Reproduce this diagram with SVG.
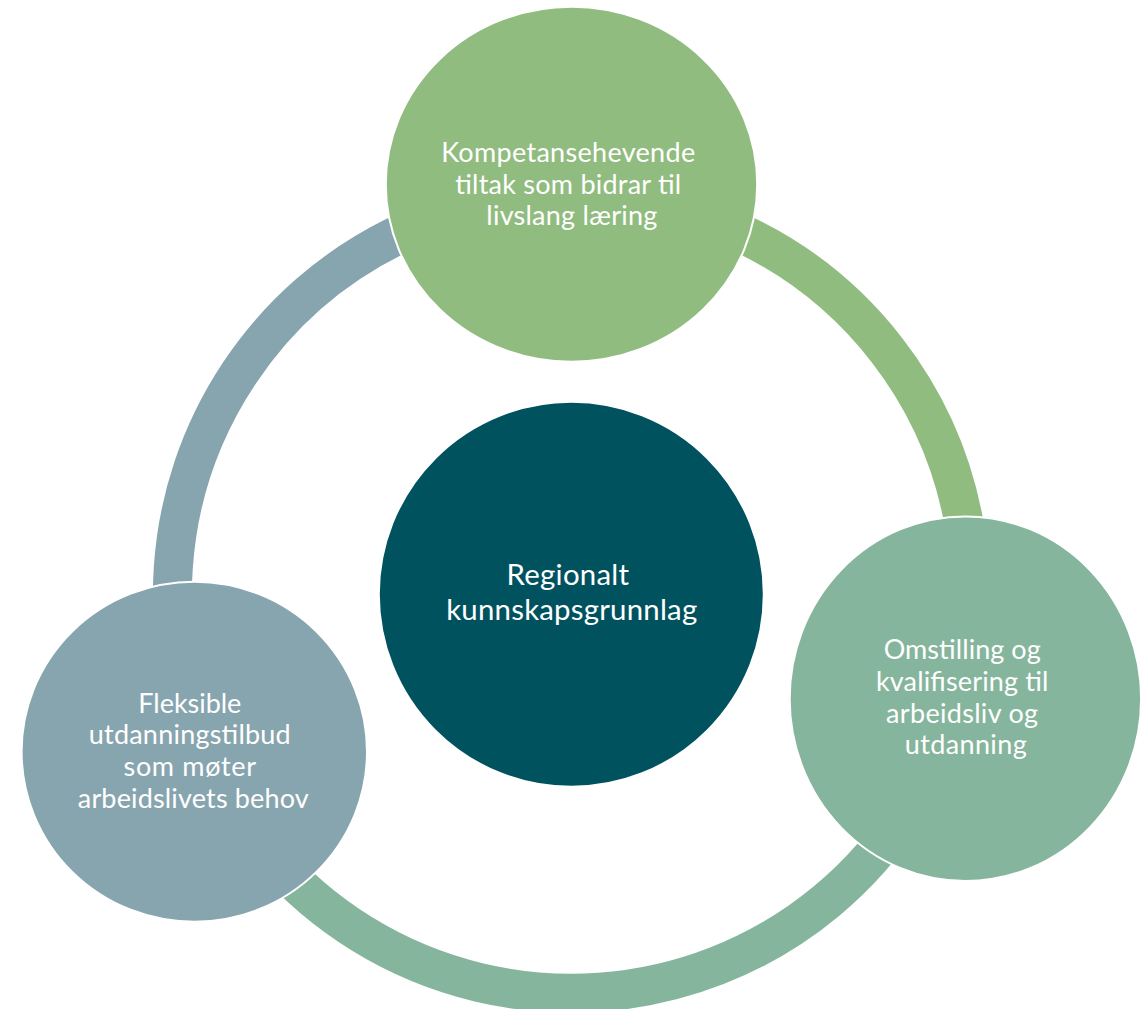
<svg xmlns="http://www.w3.org/2000/svg" width="1142" height="1009" viewBox="0 0 1142 1009">
<style>
.arc{fill:none;stroke-width:39;stroke-linecap:butt}
.node{stroke:#ffffff;stroke-width:2}
.lbl{font-family:Lato,"Liberation Sans",sans-serif;fill:#ffffff;text-anchor:middle}
.sat{font-size:27px}
.ctr{font-size:29.4px}
</style>
<rect width="1142" height="1009" fill="#ffffff"/>
<g id="connectors">
<path class="arc" stroke="#91BC80" d="M571.4,195.3 A399,399 0 0 1 957.5,694.9"/>
<path class="arc" stroke="#86B59D" d="M957.5,694.9 A399,399 0 0 1 203.2,748"/>
<path class="arc" stroke="#87A5AF" d="M203.2,748 A399,399 0 0 1 571.4,195.3"/>
</g>
<g id="node-top">
<ellipse class="node" cx="571.5" cy="184.2" rx="185.7" ry="177.5" fill="#91BC80"/>
<text class="lbl sat" lengthAdjust="spacingAndGlyphs">
<tspan x="571.8" y="161.7" textLength="254">Kompetansehevende</tspan>
<tspan x="571.8" y="193.5" textLength="226">tiltak som bidrar til</tspan>
<tspan x="571.8" y="225.2" textLength="171">livslang læring</tspan>
</text>
</g>
<g id="node-right">
<ellipse class="node" cx="965.4" cy="698.7" rx="175.7" ry="182.3" fill="#86B59D"/>
<text class="lbl sat" lengthAdjust="spacingAndGlyphs">
<tspan x="965.7" y="659" textLength="157">Omstilling og</tspan>
<tspan x="965.7" y="691" textLength="172.5">kvalifisering til</tspan>
<tspan x="965.7" y="722.7" textLength="152">arbeidsliv og</tspan>
<tspan x="965.7" y="754.3" textLength="122">utdanning</tspan>
</text>
</g>
<g id="node-left">
<ellipse class="node" cx="194.3" cy="751.7" rx="172.7" ry="170" fill="#87A5AF"/>
<text class="lbl sat" lengthAdjust="spacingAndGlyphs">
<tspan x="193.3" y="712.7" textLength="103">Fleksible</tspan>
<tspan x="193.3" y="744.3" textLength="202">utdanningstilbud</tspan>
<tspan x="193.3" y="776" textLength="132">som møter</tspan>
<tspan x="193.3" y="808.3" textLength="231">arbeidslivets behov</tspan>
</text>
</g>
<g id="node-center">
<circle class="node" cx="571.3" cy="594.3" r="192.5" fill="#01525F"/>
<text class="lbl ctr" lengthAdjust="spacingAndGlyphs">
<tspan x="571.7" y="585" textLength="122.5">Regionalt</tspan>
<tspan x="571.7" y="620" textLength="251">kunnskapsgrunnlag</tspan>
</text>
</g>
</svg>
